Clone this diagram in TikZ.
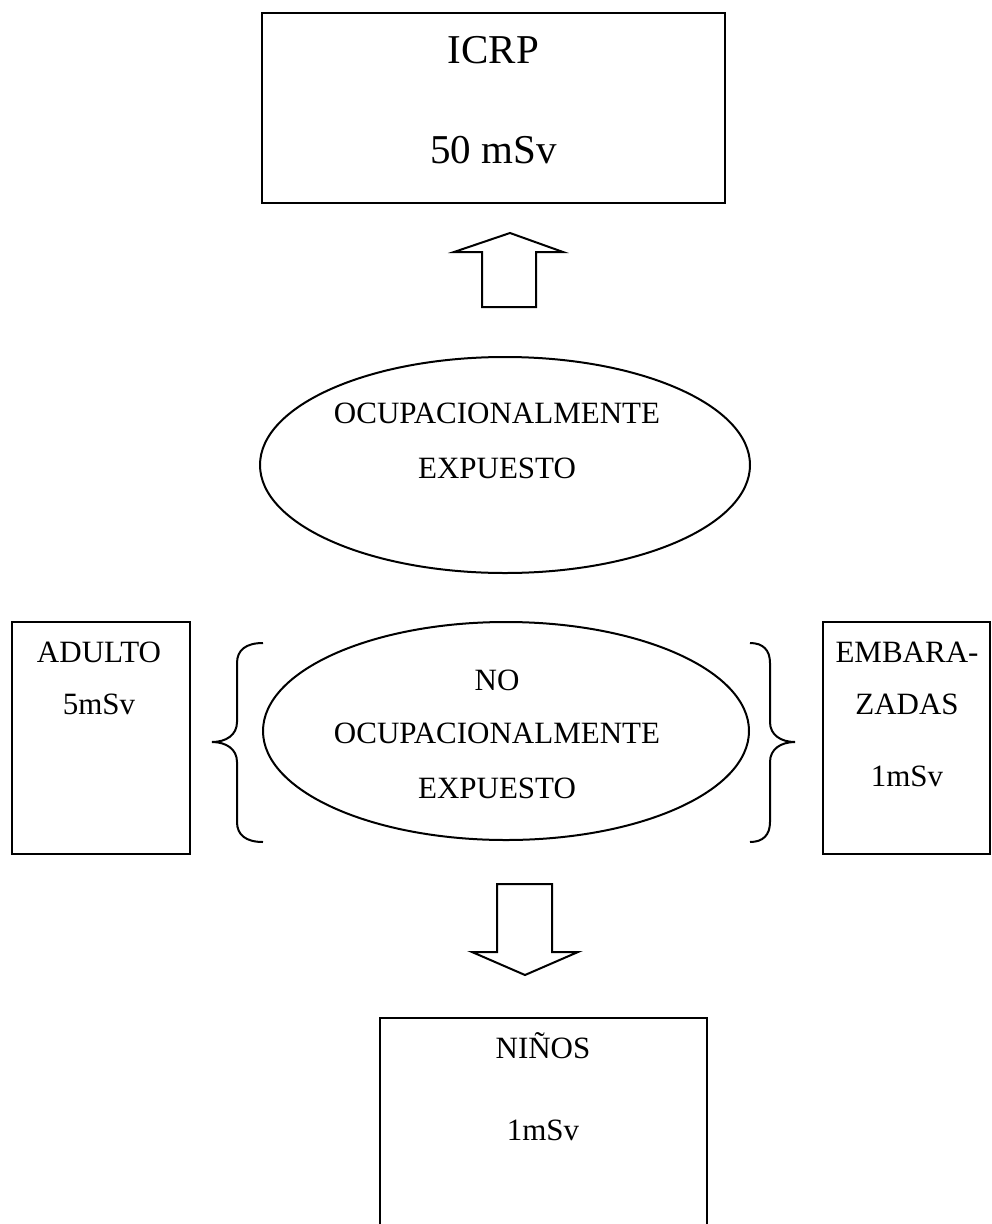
\documentclass[tikz,border=0pt]{standalone}
\usepackage{fontspec}
\setmainfont{Liberation Serif}
\usetikzlibrary{shapes.geometric}
\begin{document}
\begin{tikzpicture}[x=0.75pt,y=-0.75pt,
  line/.style={line width=1.5pt, line join=miter},
  box/.style={draw, line width=1.5pt, rectangle, inner sep=0pt},
  oval/.style={draw, line width=1.5pt, ellipse, inner sep=0pt},
  big/.style={font=\fontsize{30.75}{36}\selectfont, anchor=base, inner sep=0pt},
  txt/.style={font=\fontsize{23.25}{28}\selectfont, anchor=base, inner sep=0pt}]
\useasboundingbox (0,0) rectangle (992,1224);
% ICRP box
\node[box, minimum width=347.25pt, minimum height=142.5pt] (icrp) at (493.5,108) {};
\node[big] (icrpA) at (493.5,63) {ICRP};
\node[big] (icrpB) at (493.5,163) {50 mSv};
% up arrow
\draw[line] (510,233) -- (563,252) -- (536,252) -- (536,307) -- (482,307) -- (482,252) -- (454,252) -- cycle;
% ellipse 1
\node[oval, minimum width=367.5pt, minimum height=162pt] (occ) at (505,465) {};
\node[txt] (occA) at (497,423) {OCUPACIONALMENTE};
\node[txt] (occB) at (497,478) {EXPUESTO};
% ellipse 2
\node[oval, minimum width=364.5pt, minimum height=163.5pt] (nocc) at (506,731) {};
\node[txt] (noccA) at (497,690) {NO};
\node[txt] (noccB) at (497,743) {OCUPACIONALMENTE};
\node[txt] (noccC) at (497,798) {EXPUESTO};
% braces
\draw[line] (263,643) .. controls (246,643) and (237,650) .. (237,663) -- (237,722) .. controls (237,735) and (226,742) .. (212,742) .. controls (226,742) and (237,749) .. (237,762) -- (237,822) .. controls (237,835) and (246,842) .. (263,842);
\draw[line] (750,643) .. controls (763,643) and (770,650) .. (770,663) -- (770,722) .. controls (770,735) and (781,742) .. (795,742) .. controls (781,742) and (770,749) .. (770,762) -- (770,822) .. controls (770,835) and (763,842) .. (750,842);
% ADULTO box
\node[box, minimum width=133.5pt, minimum height=174pt] (adulto) at (101,738) {};
\node[txt] (adA) at (99,662) {ADULTO};
\node[txt] (adB) at (99,714) {5mSv};
% EMBARAZADAS box
\node[box, minimum width=125.25pt, minimum height=174pt] (emb) at (906.5,738) {};
\node[txt] (emA) at (907,662) {EMBARA-};
\node[txt] (emB) at (907,714) {ZADAS};
\node[txt] (emC) at (907,786) {1mSv};
% down arrow
\draw[line] (497,884) -- (552,884) -- (552,952) -- (578,952) -- (525,975) -- (472,952) -- (497,952) -- cycle;
% NINOS box
\draw[line] (380,1240) -- (380,1018) -- (707,1018) -- (707,1240);
\node[txt] (niA) at (543,1058) {NIÑOS};
\node[txt] (niB) at (543,1140) {1mSv};
\end{tikzpicture}
\end{document}
